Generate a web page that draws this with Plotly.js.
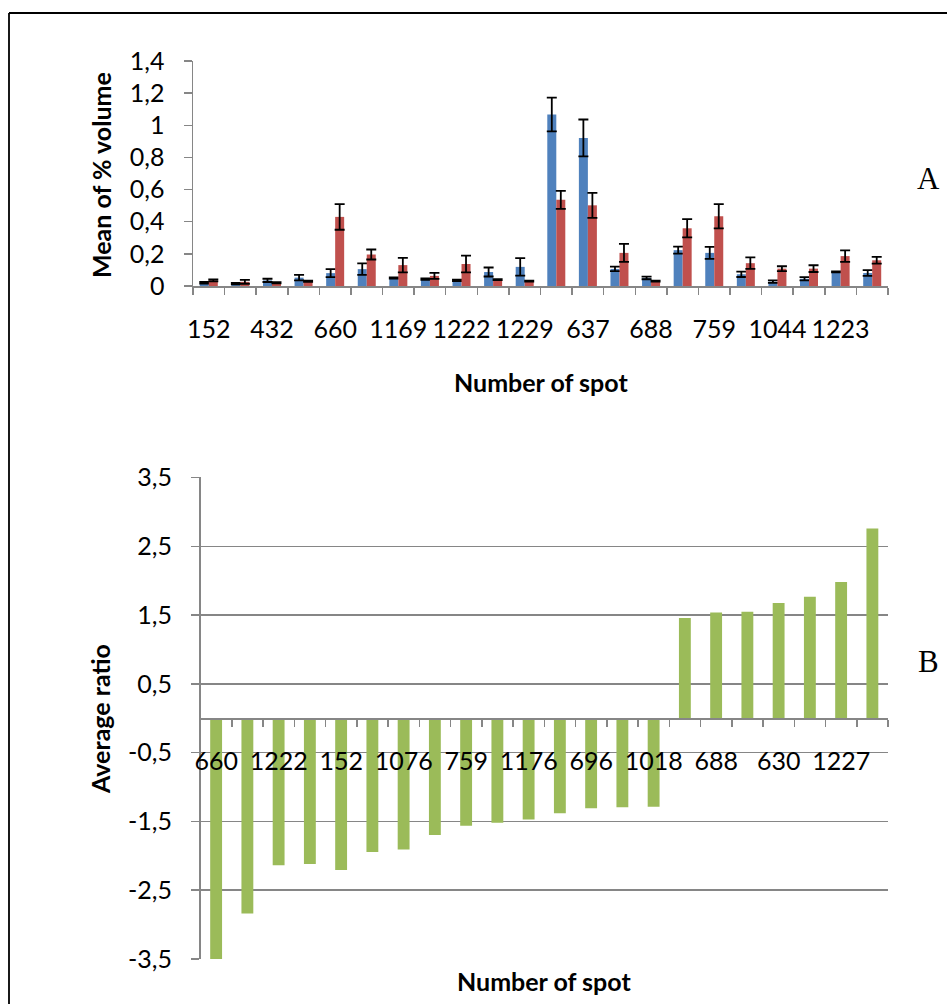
<!DOCTYPE html>
<html>
<head>
<meta charset="utf-8">
<script src="https://cdn.plot.ly/plotly-3.0.1.min.js"></script>
<style>
html,body{margin:0;padding:0;background:#fff;}
#chart{width:947px;height:1004px;}
</style>
</head>
<body>
<div id="chart"></div>
<script>
// ---------- Chart A data ----------
const spotLabelsA = ["152","","432","","660","","1169","","1222","","1229","","637","","688","","759","","1044","","1223",""];
const blueA    = [0.020,0.015,0.035,0.052,0.080,0.105,0.050,0.043,0.035,0.087,0.119,1.067,0.921,0.106,0.050,0.223,0.206,0.073,0.027,0.045,0.088,0.081];
const blueErrA = [0.005,0.004,0.010,0.017,0.025,0.036,0.004,0.004,0.005,0.028,0.054,0.105,0.115,0.014,0.008,0.022,0.037,0.017,0.008,0.010,0.003,0.018];
const redA     = [0.035,0.026,0.020,0.030,0.430,0.196,0.130,0.063,0.137,0.040,0.030,0.536,0.502,0.206,0.030,0.359,0.434,0.142,0.108,0.108,0.186,0.160];
const redErrA  = [0.006,0.012,0.004,0.004,0.080,0.031,0.045,0.019,0.052,0.003,0.003,0.056,0.078,0.056,0.003,0.057,0.075,0.036,0.015,0.021,0.036,0.021];
const yTicksA  = [0,0.2,0.4,0.6,0.8,1,1.2,1.4];

// ---------- Chart B data ----------
const spotLabelsB = ["660","","1222","","152","","1076","","759","","1176","","696","","1018","","688","","630","","1227",""];
const ratioB = [-3.54,-2.84,-2.14,-2.12,-2.21,-1.946,-1.91,-1.70,-1.565,-1.52,-1.475,-1.383,-1.31,-1.296,-1.29,1.456,1.537,1.547,1.674,1.766,1.98,2.76];
const yTicksB = [-3.5,-2.5,-1.5,-0.5,0.5,1.5,2.5,3.5];

// unique category keys (labels that are not printed are left blank)
const catsA = spotLabelsA.map((s,i)=>"a"+i+"_"+s);
const catsB = spotLabelsB.map((s,i)=>"b"+i+"_"+s);
const fmt = v => String(v).replace(".", ",");

const W = 947, H = 1004;
const px = x => x / W;
const py = y => 1 - y / H;

const grey = "#868686";
const FONT = "Lato, 'Open Sans', sans-serif";
const SERIF = "'Liberation Serif', 'DejaVu Serif', serif";
const TICK = 25, TITLE = 25;

const traces = [
  {type:"bar", x:catsA, y:blueA, xaxis:"x", yaxis:"y", marker:{color:"#4F81BD"},
   error_y:{type:"data", array:blueErrA, visible:true, color:"#000", thickness:1.8, width:5}},
  {type:"bar", x:catsA, y:redA, xaxis:"x", yaxis:"y", marker:{color:"#C0504D"},
   error_y:{type:"data", array:redErrA, visible:true, color:"#000", thickness:1.8, width:5}},
  {type:"bar", x:catsB, y:ratioB, xaxis:"x2", yaxis:"y2", width:0.38, marker:{color:"#9BBB59"}}
];

const domAy = [py(286), py(61)];
const domBy = [py(959), py(477.3)];

function note(x, y, text, font, angle) {
  return {xref:"paper", yref:"paper", x:px(x), y:py(y), xanchor:"center", yanchor:"middle",
          text:text, textangle:angle || 0, showarrow:false, font:font};
}
const titleFont = {family:FONT, size:TITLE, weight:"bold", color:"#000"};
const letterFont = {family:SERIF, size:31, color:"#000"};

const layout = {
  width:W, height:H,
  margin:{l:0,r:0,t:0,b:0},
  paper_bgcolor:"#fff", plot_bgcolor:"rgba(0,0,0,0)",
  showlegend:false,
  barmode:"group", bargap:0.43, bargroupgap:0,
  font:{family:FONT, size:TICK, color:"#000"},
  xaxis:{
    domain:[px(193), px(888)], anchor:"y",
    type:"category", categoryorder:"array", categoryarray:catsA,
    tickmode:"array", tickvals:catsA, ticktext:spotLabelsA, tickangle:0,
    tickson:"boundaries", ticks:"outside", ticklen:7, tickwidth:1.5, tickcolor:grey,
    showline:true, linecolor:grey, linewidth:1.5,
    showgrid:false, zeroline:false, ticklabelstandoff:20,
    tickfont:{family:FONT, size:TICK, color:"#000"}, fixedrange:true
  },
  yaxis:{
    domain:domAy, anchor:"x", range:[0,1.4],
    tickmode:"array", tickvals:yTicksA, ticktext:yTicksA.map(fmt),
    ticks:"outside", ticklen:8, tickwidth:1.5, tickcolor:grey,
    showline:true, linecolor:grey, linewidth:1.5,
    showgrid:false, zeroline:false, ticklabelstandoff:14,
    tickfont:{family:FONT, size:TICK, color:"#000"}, fixedrange:true
  },
  xaxis2:{
    domain:[px(200.5), px(888)], anchor:"free",
    position:(domBy[0]+domBy[1])/2,
    type:"category", categoryorder:"array", categoryarray:catsB,
    tickmode:"array", tickvals:catsB, ticktext:spotLabelsB, tickangle:0,
    tickson:"boundaries", ticks:"outside", ticklen:7, tickwidth:1.5, tickcolor:grey,
    showline:true, linecolor:grey, linewidth:1.5,
    showgrid:false, zeroline:false, ticklabelstandoff:20,
    tickfont:{family:FONT, size:TICK, color:"#000"}, fixedrange:true
  },
  yaxis2:{
    domain:domBy, anchor:"x2", range:[-3.503,3.503],
    tickmode:"array", tickvals:yTicksB, ticktext:yTicksB.map(v=>fmt(v)),
    ticks:"outside", ticklen:8, tickwidth:1.5, tickcolor:grey,
    showline:true, linecolor:grey, linewidth:1.5,
    showgrid:true, gridcolor:grey, gridwidth:1.5, zeroline:false, ticklabelstandoff:14,
    tickfont:{family:FONT, size:TICK, color:"#000"}, fixedrange:true
  },
  annotations:[
    note(101, 175, "Mean of % volume", titleFont, -90),
    note(541, 382, "Number of spot", titleFont),
    note(100, 719, "Average ratio", titleFont, -90),
    note(544, 981, "Number of spot", titleFont),
    note(928, 178, "A", letterFont),
    note(928, 661, "B", letterFont)
  ],
  shapes:[
    {type:"line", xref:"paper", yref:"paper", x0:px(9), x1:1, y0:py(13), y1:py(13), line:{color:"#000", width:1.8}},
    {type:"line", xref:"paper", yref:"paper", x0:px(9), x1:px(9), y0:py(13), y1:0, line:{color:"#000", width:1.8}}
  ]
};

Plotly.newPlot("chart", traces, layout, {displayModeBar:false, staticPlot:true});
</script>
</body>
</html>
